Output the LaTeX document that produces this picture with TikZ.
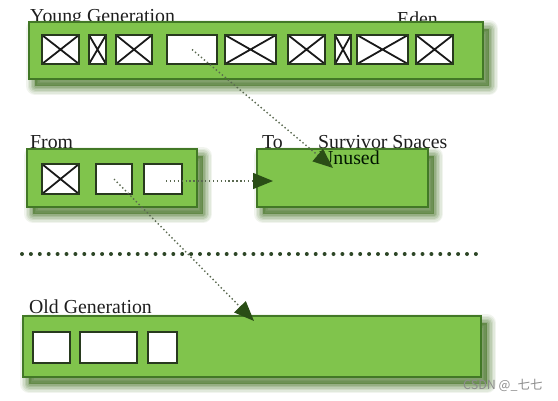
\documentclass[tikz,border=0pt]{standalone}
\usepackage{fontspec}
\setmainfont{Liberation Serif}
\newfontfamily\cjkfont{Noto Sans CJK SC}
\usetikzlibrary{arrows.meta}
\definecolor{gfill}{RGB}{128,196,76}
\definecolor{gborder}{RGB}{66,120,38}
\definecolor{shadowc}{RGB}{50,100,15}
\definecolor{cellborder}{RGB}{40,58,30}
\definecolor{tipc}{RGB}{42,78,22}
\definecolor{dotc}{RGB}{90,105,80}
\definecolor{sepc}{RGB}{45,70,38}
\definecolor{txtc}{RGB}{30,30,30}
\tikzset{
  shadowlayer/.style={draw=shadowc, draw opacity=#1, line join=round, transform canvas={shift={(6pt,-7pt)}}},
  genbox/.style={rectangle, inner sep=0pt, draw=gborder, fill=gfill, line width=1.5pt,
    preaction={shadowlayer=0.07, line width=18pt},
    preaction={shadowlayer=0.08, line width=15pt},
    preaction={shadowlayer=0.10, line width=12pt},
    preaction={shadowlayer=0.12, line width=9pt},
    preaction={shadowlayer=0.14, line width=6pt},
    preaction={shadowlayer=0.16, line width=3pt},
    preaction={fill=shadowc, fill opacity=0.5, transform canvas={shift={(6pt,-7pt)}}}},
  cell/.style={rectangle, inner sep=0pt, draw=cellborder, fill=white, line width=1.7pt},
  xcell/.style={cell, path picture={
    \draw[line width=1.8pt, black!90] (path picture bounding box.north west) -- (path picture bounding box.south east)
      (path picture bounding box.south west) -- (path picture bounding box.north east);}},
  lbl/.style={anchor=base west, inner sep=0pt, text=txtc, font=\fontsize{19.8}{22}\selectfont},
  flow/.style={dotc, line width=1.4pt, dash pattern=on 1.4pt off 2.5pt,
    -{Triangle[length=20pt,width=16pt,color=tipc]}},
}
\begin{document}
\begin{tikzpicture}[x=1pt,y=-1pt]
\useasboundingbox (0,0) rectangle (558,400);
% labels behind boxes
\node[lbl] (lyoung) at (30,22.5) {Young Generation};
\node[lbl] (leden) at (397,25.5) {Eden};
\node[lbl] (lfrom) at (30,148) {From};
\node[lbl] (lto) at (262,148) {To};
\node[lbl] (lsurv) at (318,148) {Survivor Spaces};
\node[lbl] (lold) at (29,313) {Old Generation};
% generation boxes
\node[genbox, minimum width=454pt, minimum height=57pt] (young) at (256,50.5) {};
\node[genbox, minimum width=170pt, minimum height=58pt] (from) at (112,178) {};
\node[genbox, minimum width=171pt, minimum height=58pt] (to) at (342.5,178) {};
\node[genbox, minimum width=458pt, minimum height=61pt] (old) at (252,346.5) {};
% young cells
\node[xcell, minimum width=37pt, minimum height=29pt] (y1) at (60.5,49.5) {};
\node[xcell, minimum width=17pt, minimum height=29pt] (y2) at (97.5,49.5) {};
\node[xcell, minimum width=36pt, minimum height=29pt] (y3) at (134,49.5) {};
\node[cell,  minimum width=50pt, minimum height=29pt] (y4) at (192,49.5) {};
\node[xcell, minimum width=51pt, minimum height=29pt] (y5) at (250.5,49.5) {};
\node[xcell, minimum width=37pt, minimum height=29pt] (y6) at (306.5,49.5) {};
\node[xcell, minimum width=16pt, minimum height=29pt] (y7) at (343,49.5) {};
\node[xcell, minimum width=51pt, minimum height=29pt] (y8) at (382.5,49.5) {};
\node[xcell, minimum width=37pt, minimum height=29pt] (y9) at (434.5,49.5) {};
% from cells
\node[xcell, minimum width=37pt, minimum height=30pt] (f1) at (60.5,179) {};
\node[cell,  minimum width=36pt, minimum height=30pt] (f2) at (114,179) {};
\node[cell,  minimum width=38pt, minimum height=30pt] (f3) at (163,179) {};
% old cells
\node[cell, minimum width=37pt, minimum height=31pt] (o1) at (51.5,347.5) {};
\node[cell, minimum width=57pt, minimum height=31pt] (o2) at (108.5,347.5) {};
\node[cell, minimum width=29pt, minimum height=31pt] (o3) at (162.5,347.5) {};
% unused label
\node[lbl, text=black!80!green!40!black] (lunused) at (319,164) {Unused};
% separator
\coordinate (sepA) at (22,254);
\coordinate (sepB) at (483,254);
\draw[sepc, line width=4pt, line cap=round, dash pattern=on 0pt off 8.9pt] (sepA) -- (sepB);
% flows
\coordinate (t1) at (333,168);
\coordinate (t2) at (273,181);
\coordinate (t3) at (254,321);
\draw[flow] (y4.center) -- (t1);
\draw[flow] (f3.center) ++(3pt,-2pt) coordinate (s2) (s2) -- (t2);
\draw[flow] (f2.center) -- (t3);
% watermark
\node[anchor=base west, inner sep=0pt, text=black!45, font=\cjkfont\fontsize{12.5}{13}\selectfont] (wm) at (463,389) {CSDN @\_七七};
\end{tikzpicture}
\end{document}
